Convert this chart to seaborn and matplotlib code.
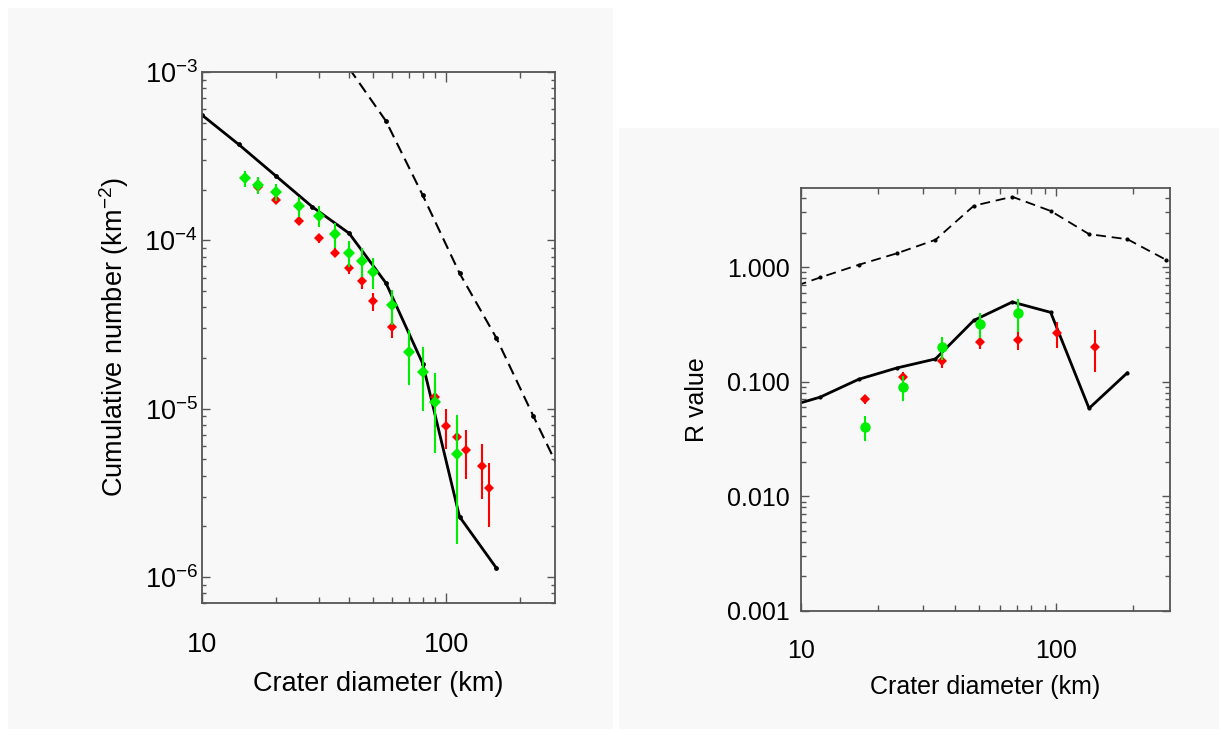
import matplotlib
matplotlib.use("Agg")
import matplotlib.pyplot as plt
import matplotlib.ticker as mticker
from matplotlib.patches import Rectangle
import numpy as np
import seaborn as sns

# left panel: cumulative crater counts
cum_solid_d = [10.0, 14.14, 20.0, 28.28, 40.0, 56.57, 80.0, 113.1, 160.0]
cum_solid_n = [5.55e-4, 3.71e-4, 2.42e-4, 1.58e-4, 1.10e-4, 5.57e-5, 1.85e-5, 2.28e-6, 1.13e-6]

cum_dash_d = [40.0, 56.57, 80.0, 113.1, 160.0, 226.3, 320.0]
cum_dash_n = [1.05e-3, 5.11e-4, 1.85e-4, 6.38e-5, 2.63e-5, 9.08e-6, 3.2e-6]

cum_red_d = [15, 17, 20, 25, 30, 35, 40, 45, 50, 60, 70, 80, 90, 100, 110, 120, 140, 150]
cum_red_n = [2.35e-4, 2.07e-4, 1.73e-4, 1.31e-4, 1.03e-4, 8.45e-5, 6.84e-5, 5.70e-5, 4.34e-5,
             3.05e-5, 2.16e-5, 1.64e-5, 1.18e-5, 7.85e-6, 6.75e-6, 5.65e-6, 4.54e-6, 3.36e-6]
cum_red_relerr = [0.046, 0.05, 0.05, 0.055, 0.06, 0.064, 0.073, 0.096, 0.12,
                  0.14, 0.17, 0.18, 0.22, 0.27, 0.29, 0.32, 0.36, 0.41]

cum_grn_d = [15, 17, 20, 25, 30, 35, 40, 45, 50, 60, 70, 80, 90, 110]
cum_grn_n = [2.33e-4, 2.12e-4, 1.93e-4, 1.60e-4, 1.40e-4, 1.09e-4, 8.45e-5, 7.53e-5, 6.47e-5,
             4.10e-5, 2.16e-5, 1.64e-5, 1.09e-5, 5.39e-6]
cum_grn_relerr = [0.11, 0.114, 0.114, 0.137, 0.146, 0.17, 0.18, 0.20, 0.21,
                  0.23, 0.36, 0.41, 0.50, 0.71]

# right panel: R values
r_line_d = [8.41, 11.89, 16.82, 23.78, 33.64, 47.57, 67.27, 95.14, 134.5, 190.3, 269.1, 380.5]
r_dash = [0.622, 0.812, 1.047, 1.32, 1.73, 3.43, 4.11, 3.09, 1.94, 1.75, 1.16, 0.85]
r_solid = [0.0586, 0.0734, 0.105, 0.132, 0.158, 0.343, 0.496, 0.403, 0.0586, 0.120]

r_red_d = [17.8, 25.2, 35.6, 50.3, 71.1, 100.6, 142.3]
r_red = [0.0702, 0.110, 0.153, 0.223, 0.233, 0.265, 0.201]
r_red_relerr = [0.087, 0.105, 0.135, 0.13, 0.18, 0.25, 0.40]

r_grn_d = [17.8, 25.2, 35.6, 50.3, 71.1]
r_grn = [0.0403, 0.0898, 0.200, 0.319, 0.398]
r_grn_relerr = [0.245, 0.24, 0.22, 0.24, 0.32]

BG = "#f8f8f8"
RED = "#ff0000"
GREEN = "#00ee00"
SPINE = "#555555"

sns.set_theme(style="ticks")
plt.rcParams["font.family"] = ["Liberation Sans", "DejaVu Sans"]
plt.rcParams["mathtext.fontset"] = "custom"
plt.rcParams["mathtext.rm"] = "Liberation Sans"
plt.rcParams["mathtext.it"] = "Liberation Sans:italic"
plt.rcParams["text.color"] = "black"
plt.rcParams["axes.labelcolor"] = "black"

fig = plt.figure(figsize=(12.19, 7.29), dpi=100)
fig.patch.set_facecolor("white")
W, H = 1219, 729
fig.add_artist(Rectangle((8 / W, 0), (613 - 8) / W, (729 - 8) / H, transform=fig.transFigure,
                         facecolor=BG, edgecolor="none", zorder=-10))
fig.add_artist(Rectangle((619 / W, 0), (1219 - 619) / W, (729 - 128) / H, transform=fig.transFigure,
                         facecolor=BG, edgecolor="none", zorder=-10))

ax1 = fig.add_axes([202 / W, 1 - 603 / H, 353 / W, 531 / H])
ax2 = fig.add_axes([801 / W, 1 - 611 / H, 368.5 / W, 423 / H])


def style_axes(ax, fs, xpad, ypad, xmaj, xmin, ymaj, ymin):
    ax.set_facecolor(BG)
    ax.set_xscale("log")
    ax.set_yscale("log")
    for s in ax.spines.values():
        s.set_color(SPINE)
        s.set_linewidth(1.3)
        s.set_visible(True)
    ax.tick_params(which="both", direction="in", top=True, right=True, colors=SPINE,
                   labelcolor="black", labelsize=fs, width=1.0)
    ax.tick_params(axis="x", which="major", length=xmaj, pad=xpad)
    ax.tick_params(axis="x", which="minor", length=xmin)
    ax.tick_params(axis="y", which="major", length=ymaj, pad=ypad)
    ax.tick_params(axis="y", which="minor", length=ymin)
    ax.xaxis.set_major_locator(mticker.FixedLocator([10, 100]))
    ax.xaxis.set_major_formatter(mticker.FuncFormatter(lambda v, _: f"{v:g}"))
    ax.xaxis.set_minor_locator(mticker.LogLocator(base=10, subs=np.arange(2, 10)))
    ax.xaxis.set_minor_formatter(mticker.NullFormatter())
    ax.yaxis.set_minor_locator(mticker.LogLocator(base=10, subs=np.arange(2, 10), numticks=20))
    ax.yaxis.set_minor_formatter(mticker.NullFormatter())
    ax.set_xlim(10, 278)


# ---- left panel
style_axes(ax1, 19.5, 21, 3, 7.5, 4.3, 6, 3)
ax1.yaxis.set_major_locator(mticker.LogLocator(base=10, numticks=10))
ax1.yaxis.set_major_formatter(mticker.LogFormatterMathtext())
ax1.set_ylim(7.0e-7, 1e-3)

sns.lineplot(x=cum_dash_d, y=cum_dash_n, ax=ax1, color="black", linewidth=1.5,
             linestyle=(0, (5.5, 3.0)), marker="o", markersize=3.5, markeredgewidth=0,
             sort=False, estimator=None)
sns.lineplot(x=cum_solid_d, y=cum_solid_n, ax=ax1, color="black", linewidth=2.0,
             marker="o", markersize=3.5, markeredgewidth=0, sort=False, estimator=None)

red_n = np.array(cum_red_n)
ax1.errorbar(cum_red_d, red_n, yerr=red_n * np.array(cum_red_relerr), fmt="D", color=RED,
             ms=5.5, mew=0, elinewidth=1.5, capsize=2.2, capthick=1.5, zorder=3)
grn_n = np.array(cum_grn_n)
ax1.errorbar(cum_grn_d, grn_n, yerr=grn_n * np.array(cum_grn_relerr), fmt="D", color=GREEN,
             ms=6.5, mew=0, elinewidth=1.5, capsize=2.4, capthick=1.5, zorder=4)

ax1.set_xlabel("Crater diameter (km)", fontsize=19.5)
ax1.xaxis.set_label_coords(0.5, -0.1525)
ax1.xaxis.label.set_va("center")
ax1.set_ylabel("Cumulative number (km$^{-2}$)", fontsize=19.5)
ax1.yaxis.set_label_coords(-0.25, 0.5)
ax1.yaxis.label.set_va("center")

# ---- right panel
style_axes(ax2, 18, 20, 8, 6, 4.3, 5.5, 3.6)
ax2.yaxis.set_major_locator(mticker.FixedLocator([0.001, 0.01, 0.1, 1.0]))
ax2.yaxis.set_major_formatter(mticker.FuncFormatter(lambda v, _: f"{v:.3f}"))
ax2.set_ylim(0.001, 4.9)

sns.lineplot(x=r_line_d, y=r_dash, ax=ax2, color="black", linewidth=1.3,
             linestyle=(0, (5.5, 3.2)), marker="o", markersize=3, markeredgewidth=0,
             sort=False, estimator=None)
sns.lineplot(x=r_line_d[:len(r_solid)], y=r_solid, ax=ax2, color="black", linewidth=2.0,
             marker="o", markersize=3, markeredgewidth=0, sort=False, estimator=None)

rr = np.array(r_red)
ax2.errorbar(r_red_d, rr, yerr=rr * np.array(r_red_relerr), fmt="D", color=RED,
             ms=5.0, mew=0, elinewidth=1.5, capsize=2.2, capthick=1.5, zorder=3)
rg = np.array(r_grn)
ax2.errorbar(r_grn_d, rg, yerr=rg * np.array(r_grn_relerr), fmt="o", color=GREEN,
             ms=7.5, mew=0, elinewidth=1.5, capsize=2.2, capthick=1.5, zorder=4)

ax2.set_xlabel("Crater diameter (km)", fontsize=18)
ax2.xaxis.set_label_coords(0.5, -0.18)
ax2.xaxis.label.set_va("center")
ax2.set_ylabel("R value", fontsize=18)
ax2.yaxis.set_label_coords(-0.283, 0.5)
ax2.yaxis.label.set_va("center")

for ax in (ax1, ax2):
    leg = ax.get_legend()
    if leg is not None:
        leg.remove()

fig.savefig("out.png", dpi=100, facecolor="white")
